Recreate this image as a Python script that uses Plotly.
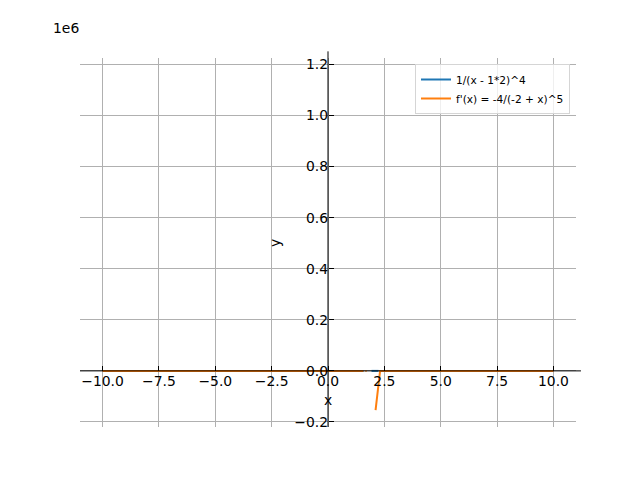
import plotly.graph_objects as go

# Data
blue_x = [-10.0, 1.57, None, 1.93, 2.24, None, 2.31, 10.0]
blue_y = [0.0, 0.0, None, 0.0, 0.0, None, 0.0, 0.0]
orange_x = [-10.0, 1.57, None, 1.66, 1.71, None, 2.11, 2.31, 10.0]
orange_y = [0.0, 0.0, None, 0.0, 0.0, None, -154000.0, 0.0, 0.0]

x_tick_vals = [-10.0, -7.5, -5.0, -2.5, 0.0, 2.5, 5.0, 7.5, 10.0]
x_tick_text = ["−10.0", "−7.5", "−5.0", "−2.5", "0.0", "2.5", "5.0", "7.5", "10.0"]
y_tick_vals = [-200000, 0, 200000, 400000, 600000, 800000, 1000000, 1200000]
y_tick_text = ["−0.2", "0.0", "0.2", "0.4", "0.6", "0.8", "1.0", "1.2"]

x_range = [-11.0, 11.0]
y_range = [-219700.0, 1225000.0]

labels = ["1/(x - 1*2)^4", "f'(x) = -4/(-2 + x)^5"]
colors = ["#1f77b4", "#ff7f0e"]

font = "DejaVu Sans, Liberation Sans, sans-serif"

fig = go.Figure()
fig.add_trace(go.Scatter(x=blue_x, y=blue_y, mode="lines", name=labels[0],
                         line=dict(color=colors[0], width=2), connectgaps=False))
fig.add_trace(go.Scatter(x=orange_x, y=orange_y, mode="lines", name=labels[1],
                         line=dict(color=colors[1], width=2), connectgaps=False))

# arrow heads at the end of the centred spines
fig.add_trace(go.Scatter(x=[0.0], y=[1249000.0], mode="markers", showlegend=False,
                         cliponaxis=False, hoverinfo="skip",
                         marker=dict(symbol="triangle-up", size=8, color=colors[0],
                                     line=dict(color="black", width=1))))
fig.add_trace(go.Scatter(x=[11.22], y=[0.0], mode="markers", showlegend=False,
                         cliponaxis=False, hoverinfo="skip",
                         marker=dict(symbol="triangle-right", size=8, color=colors[0],
                                     line=dict(color="black", width=1))))

y0_frac = (0 - y_range[0]) / (y_range[1] - y_range[0])
x0_frac = (0 - x_range[0]) / (x_range[1] - x_range[0])

# plot area in figure pixels (page has an 8px body offset)
L, R, T, B = 72, 568, 50, 419
PW, PH = R - L, B - T


def px(fx):
    return (fx - 8 - L) / PW


def py(fy):
    return (B - (fy - 8)) / PH


fig.update_layout(
    width=640, height=480,
    margin=dict(l=L, r=640 - R, t=T, b=480 - B),
    paper_bgcolor="white", plot_bgcolor="white",
    font=dict(family=font, size=13.9, color="black"),
    showlegend=True,
    legend=dict(x=px(570), y=py(64), xanchor="right", yanchor="top",
                bgcolor="rgba(255,255,255,0.8)", bordercolor="#d5d5d5", borderwidth=1,
                font=dict(size=10.6, family=font), tracegroupgap=0, itemwidth=30),
    xaxis=dict(range=x_range, tickvals=x_tick_vals, ticktext=x_tick_text,
               showgrid=True, gridcolor="#b0b0b0", gridwidth=1,
               zeroline=False, showline=False,
               anchor="free", position=y0_frac,
               ticks="inside", ticklen=5, tickcolor="black", tickwidth=1),
    yaxis=dict(range=y_range, tickvals=y_tick_vals, ticktext=y_tick_text,
               showgrid=True, gridcolor="#b0b0b0", gridwidth=1,
               zeroline=False, showline=False,
               anchor="free", position=x0_frac,
               ticks="inside", ticklen=5, tickcolor="black", tickwidth=1),
    shapes=[
        dict(type="line", xref="paper", yref="y", x0=0, x1=1.01, y0=0, y1=0,
             line=dict(color="black", width=1), layer="above"),
        dict(type="line", xref="x", yref="paper", x0=0, x1=0, y0=0, y1=1.018,
             line=dict(color="black", width=1), layer="above"),
    ],
    annotations=[
        dict(text="x", xref="x", yref="paper", x=0, y=py(400),
             showarrow=False, font=dict(size=13.9), xanchor="center", yanchor="middle"),
        dict(text="y", xref="paper", yref="paper", x=px(275), y=py(243),
             showarrow=False, font=dict(size=13.9), textangle=-90,
             xanchor="center", yanchor="middle"),
        dict(text="1e6", xref="paper", yref="paper", x=px(66), y=py(28),
             showarrow=False, font=dict(size=13.9), xanchor="center", yanchor="middle"),
    ],
)

fig.write_html("out.html")
